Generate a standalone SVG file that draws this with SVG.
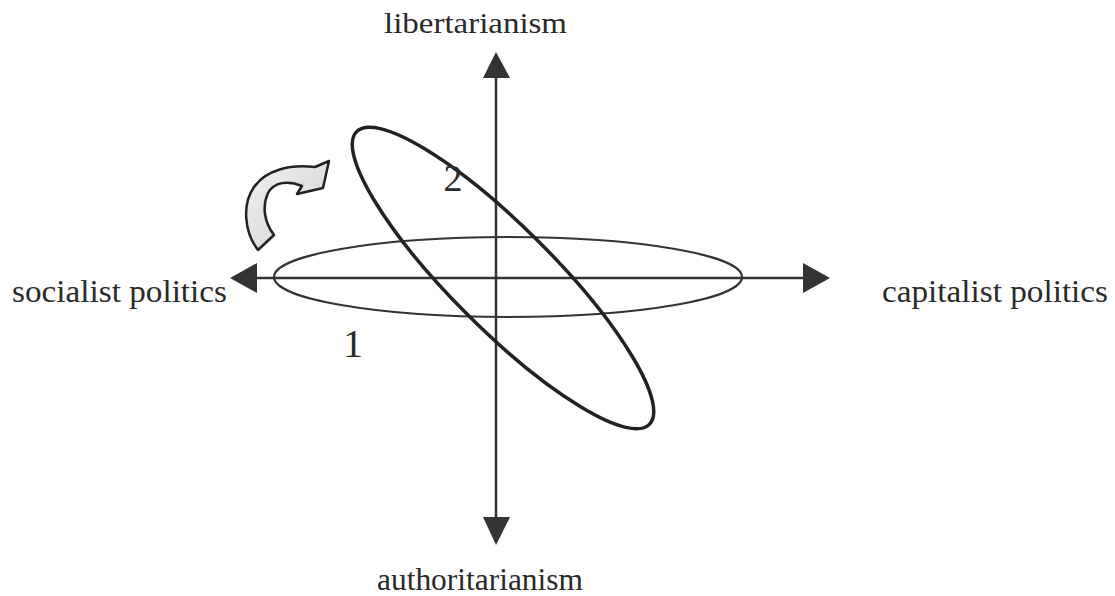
<svg xmlns="http://www.w3.org/2000/svg" width="1115" height="596" viewBox="0 0 1115 596">
  <style>
    .lbl { font-family: "Liberation Serif", "Times New Roman", serif; fill: #2a2a2a; }
    .axis { stroke: #333; stroke-width: 2.5; fill: none; }
    .head { fill: #333; stroke: none; }
  </style>
  <defs>
    <linearGradient id="g" x1="0" y1="0" x2="1" y2="1">
      <stop offset="0" stop-color="#f2f2f2"/>
      <stop offset="1" stop-color="#cfcfcf"/>
    </linearGradient>
  </defs>
  <rect width="1115" height="596" fill="#fff"/>

  <g id="connectors">
    <line class="axis" x1="496" y1="70" x2="496" y2="528"/>
    <line class="axis" x1="245" y1="278" x2="815" y2="278"/>
    <polygon class="head" points="496,52 483,78 510,78"/>
    <polygon class="head" points="496,545 483,517 510,517"/>
    <polygon class="head" points="830,278 803,263 803,293"/>
    <polygon class="head" points="230,278 257,263 257,293"/>
  </g>

  <g id="ellipse1">
    <ellipse cx="508" cy="277" rx="234" ry="40" fill="none" stroke="#333" stroke-width="2.2"/>
  </g>
  <g id="ellipse2">
    <ellipse cx="0" cy="0" rx="207" ry="51" fill="none" stroke="#222" stroke-width="3.5" transform="translate(503,278) rotate(45)"/>
  </g>

  <g id="curved-arrow">
    <path d="M 258,250 C 244,232 242,204 254,187 C 266,170 290,164 315,167 L 329,161 L 323,188 L 297,194 L 302,186 C 288,180 274,182 268,193 C 262,206 264,222 274,235 Z" fill="url(#g)" stroke="#222" stroke-width="2.5" stroke-linejoin="round"/>
  </g>

  <g id="label-top"><text class="lbl" x="384" y="33" font-size="30" textLength="183" lengthAdjust="spacingAndGlyphs">libertarianism</text></g>
  <g id="label-bottom"><text class="lbl" x="377" y="590" font-size="31" textLength="206" lengthAdjust="spacingAndGlyphs">authoritarianism</text></g>
  <g id="label-left"><text class="lbl" x="12" y="302" font-size="32" textLength="215" lengthAdjust="spacingAndGlyphs">socialist politics</text></g>
  <g id="label-right"><text class="lbl" x="882" y="302" font-size="32" textLength="226" lengthAdjust="spacingAndGlyphs">capitalist politics</text></g>
  <g id="label-1"><text class="lbl" x="353" y="357" font-size="40" text-anchor="middle">1</text></g>
  <g id="label-2"><text class="lbl" x="453" y="191" font-size="38" text-anchor="middle">2</text></g>
</svg>
